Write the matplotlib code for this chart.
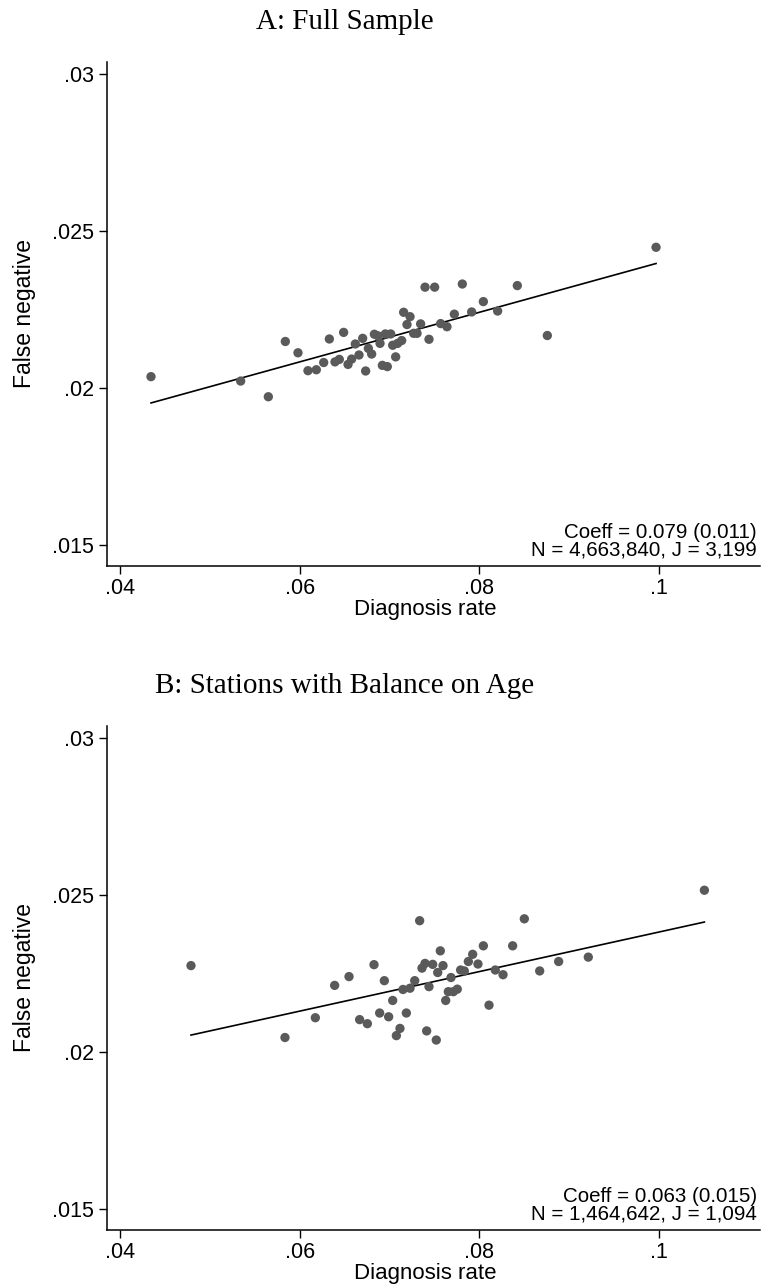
import numpy as np
import matplotlib.pyplot as plt

###########--binned scatter data--###################

# Panel A: full sample
diag_a = [0.04345, 0.05343, 0.05651, 0.05840, 0.05981, 0.06092, 0.06185, 0.06267,
          0.06330, 0.06393, 0.06441, 0.06489, 0.06538, 0.06578, 0.06619, 0.06660,
          0.06701, 0.06734, 0.06764, 0.06801, 0.06831, 0.06871, 0.06894, 0.06920,
          0.06953, 0.06975, 0.07013, 0.07035, 0.07068, 0.07090, 0.07135, 0.07157,
          0.07194, 0.07228, 0.07268, 0.07306, 0.07346, 0.07395, 0.07439, 0.07502,
          0.07569, 0.07639, 0.07721, 0.07810, 0.07914, 0.08044, 0.08203, 0.08422,
          0.08756, 0.09966]
fneg_a = [0.02035, 0.02021, 0.01971, 0.02147, 0.02111, 0.02054, 0.02057, 0.02080,
          0.02155, 0.02082, 0.02090, 0.02176, 0.02074, 0.02091, 0.02139, 0.02104,
          0.02157, 0.02053, 0.02125, 0.02107, 0.02170, 0.02165, 0.02141, 0.02071,
          0.02171, 0.02067, 0.02171, 0.02135, 0.02098, 0.02141, 0.02150, 0.02240,
          0.02201, 0.02226, 0.02173, 0.02173, 0.02203, 0.02320, 0.02154, 0.02320,
          0.02204, 0.02194, 0.02234, 0.02330, 0.02241, 0.02274, 0.02244, 0.02325,
          0.02166, 0.02447]

# Panel B: stations with balance on age
diag_b = [0.04790, 0.05836, 0.06174, 0.06389, 0.06549, 0.06667, 0.06753, 0.06827,
          0.06890, 0.06942, 0.06990, 0.07035, 0.07076, 0.07116, 0.07150, 0.07187,
          0.07228, 0.07280, 0.07335, 0.07361, 0.07395, 0.07413, 0.07439, 0.07480,
          0.07520, 0.07536, 0.07565, 0.07595, 0.07625, 0.07654, 0.07684, 0.07710,
          0.07754, 0.07791, 0.07832, 0.07877, 0.07925, 0.07984, 0.08044, 0.08107,
          0.08177, 0.08263, 0.08370, 0.08500, 0.08671, 0.08882, 0.09212, 0.10504]
fneg_b = [0.02274, 0.02045, 0.02108, 0.02211, 0.02239, 0.02102, 0.02089, 0.02277,
          0.02123, 0.02226, 0.02111, 0.02163, 0.02051, 0.02074, 0.02198, 0.02123,
          0.02202, 0.02226, 0.02417, 0.02266, 0.02281, 0.02066, 0.02207, 0.02278,
          0.02037, 0.02252, 0.02321, 0.02274, 0.02163, 0.02191, 0.02236, 0.02191,
          0.02199, 0.02260, 0.02257, 0.02287, 0.02310, 0.02279, 0.02337, 0.02148,
          0.02260, 0.02245, 0.02337, 0.02423, 0.02257, 0.02287, 0.02301, 0.02514]

titles = ["A: Full Sample", "B: Stations with Balance on Age"]
coeffs = [0.079, 0.063]
ses = [0.011, 0.015]
intercepts = [0.01608, 0.01751]
notes = ["N = 4,663,840, J = 3,199", "N = 1,464,642, J = 1,094"]

xticks = [0.04, 0.06, 0.08, 0.1]
xtick_labels = [".04", ".06", ".08", ".1"]
yticks = [0.015, 0.02, 0.025, 0.03]
ytick_labels = [".015", ".02", ".025", ".03"]

W, H = 761, 1287
DOT = "#5a5a5a"


def binscatter_panel(fig, bottom_px, x, y, b, a, se, note):
    """
    one binned scatter with its linear fit, bottom_px measured from the top
    """
    top_px = bottom_px - 504.3
    ax = fig.add_axes([106.7 / W, 1 - bottom_px / H, (760 - 106.7) / W, (bottom_px - top_px) / H])

    ax.scatter(x, y, s=45, color=DOT, edgecolors="none", zorder=3)

    xs = np.array([min(x), max(x)])
    ax.plot(xs, a + b * xs, "k-", lw=1.2, zorder=2)

    ax.set_xlim(0.03852, 0.11123)
    ax.set_ylim(0.01432, 0.03038)
    ax.set_xticks(xticks)
    ax.set_xticklabels(xtick_labels)
    ax.set_yticks(yticks)
    ax.set_yticklabels(ytick_labels)

    for s in ["top", "right"]:
        ax.spines[s].set_visible(False)
    for s in ["left", "bottom"]:
        ax.spines[s].set_linewidth(1.1)
    ax.tick_params(direction="out", length=6, width=1.0, labelsize=15.5, pad=3)

    ax.set_xlabel("Diagnosis rate", fontsize=16)
    ax.xaxis.set_label_coords(0.487, -0.066)
    ax.set_ylabel("False negative", fontsize=16.5, labelpad=12)

    ax.text(0.9954, 0.012, "Coeff = %.3f (%.3f)\n%s" % (b, se, note),
            transform=ax.transAxes, ha="right", va="bottom",
            fontsize=14.8, linespacing=0.95)
    return ax


plt.rcParams["font.family"] = ["Liberation Sans", "DejaVu Sans"]

fig = plt.figure(figsize=(W / 100, H / 100), dpi=100)

panels = [(diag_a, fneg_a), (diag_b, fneg_b)]
for i, (x, y) in enumerate(panels):
    bottom = 566 + 664 * i
    binscatter_panel(fig, bottom, x, y, coeffs[i], intercepts[i], ses[i], notes[i])
    fig.text(345 / W, 1 - (22 + 664 * i) / H, titles[i],
             ha="center", va="center", fontsize=21, family="Liberation Serif")

fig.savefig("out.png", dpi=100)
